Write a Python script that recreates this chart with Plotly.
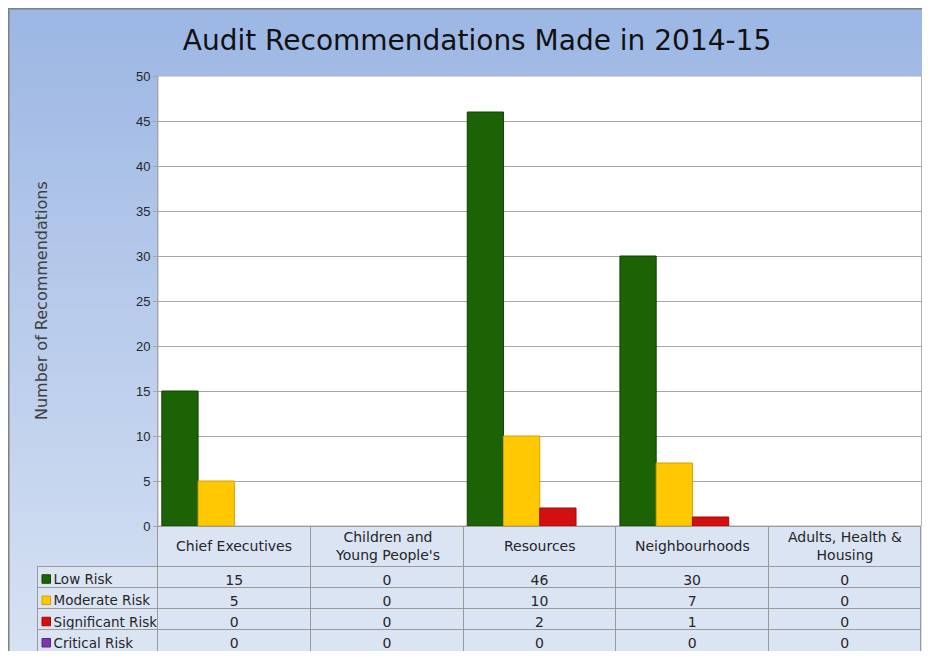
import plotly.graph_objects as go

# figure size (page adds an 8px body margin around it)
W, H = 914, 643
OFF = 8

categories = ["Chief Executives", "Children and Young People's", "Resources", "Neighbourhoods", "Adults, Health & Housing"]
header_labels = ["Chief Executives", "Children and<br>Young People's", "Resources", "Neighbourhoods", "Adults, Health &<br>Housing"]
series_names = ["Low Risk", "Moderate Risk", "Significant Risk", "Critical Risk"]
low_risk = [15, 0, 46, 30, 0]
moderate_risk = [5, 0, 10, 7, 0]
significant_risk = [0, 0, 2, 1, 0]
critical_risk = [0, 0, 0, 0, 0]
series_values = [low_risk, moderate_risk, significant_risk, critical_risk]
series_colors = ["#1c6305", "#ffc800", "#d40f0f", "#7b3ab0"]
series_edges = ["#124403", "#d6a200", "#a00a0a", "#5a2486"]
y_ticks = list(range(0, 51, 5))


def px(sx):
    return (sx - OFF) / W


def py(sy):
    return 1 - (sy - OFF) / H


PLOT_L, PLOT_R, PLOT_T, PLOT_B = 158, 921.5, 76, 526
COL_W = (PLOT_R - PLOT_L) / len(categories)

fig = go.Figure()

for name, vals, col, edge in zip(series_names, series_values, series_colors, series_edges):
    fig.add_trace(go.Bar(
        x=categories, y=vals, name=name,
        marker=dict(color=col, line=dict(color=edge, width=[1 if v > 0 else 0 for v in vals])),
        showlegend=False,
    ))

# data table
font_fam = "DejaVu Sans"
NB = "\u00a0"
HEADER_H = 40
ROW_H = 21.25
legend_cells = [NB + NB + n.replace(" ", NB) for n in series_names]
cell_cols = [legend_cells] + [[str(series_values[s][i]) for s in range(4)] for i in range(5)]
cell_fill = "#dbe4f3"
grid_col = "#9a9a9a"
fig.add_trace(go.Table(
    domain=dict(x=[px(37), px(PLOT_R)], y=[0, py(PLOT_B)]),
    columnwidth=[121] + [COL_W] * 5,
    header=dict(
        values=[""] * 6,
        fill_color=["rgba(0,0,0,0)"] + [cell_fill] * 5,
        line=dict(color=["rgba(0,0,0,0)"] + [grid_col] * 5, width=1),
        height=HEADER_H,
        font=dict(family=font_fam, size=14, color="#262626"),
    ),
    cells=dict(
        values=cell_cols,
        fill_color=cell_fill,
        line=dict(color=grid_col, width=1),
        align=["left"] + ["center"] * 5,
        height=ROW_H,
        font=dict(family=font_fam, size=[13.5] + [14] * 5, color="#262626"),
    ),
))

shapes = []
# gradient background
n = 60
c0 = (156, 183, 228)
c1 = (214, 225, 243)
for i in range(n):
    t = i / (n - 1)
    c = tuple(round(a + (b - a) * t) for a, b in zip(c0, c1))
    shapes.append(dict(type="rect", xref="paper", yref="paper", layer="below",
                       x0=0, x1=1, y0=1 - (i + 1) / n - 0.002, y1=1 - i / n,
                       fillcolor=f"rgb{c}", line=dict(width=0)))
# plot area white
shapes.append(dict(type="rect", xref="paper", yref="paper", layer="below",
                   x0=px(PLOT_L), x1=px(PLOT_R), y0=py(PLOT_B), y1=py(PLOT_T),
                   fillcolor="white", line=dict(color="#b0b0b0", width=1)))
# outer frame lines (top and left)
shapes.append(dict(type="line", xref="paper", yref="paper", x0=0, x1=1, y0=1, y1=1,
                   line=dict(color="#808080", width=3)))
shapes.append(dict(type="line", xref="paper", yref="paper", x0=0, x1=0, y0=0, y1=1,
                   line=dict(color="#808080", width=3)))
# legend keys in the table's first column
for i, (col, edge) in enumerate(zip(series_colors, series_edges)):
    cy = PLOT_B + HEADER_H + ROW_H * i + 13
    shapes.append(dict(type="rect", xref="paper", yref="paper",
                       x0=px(42), x1=px(50.5), y0=py(cy + 4.25), y1=py(cy - 4.25),
                       fillcolor=col, line=dict(color=edge, width=1)))

annotations = [dict(text="Number of Recommendations", xref="paper", yref="paper",
                    x=px(41), y=py(301), textangle=-90, showarrow=False,
                    xanchor="center", yanchor="middle",
                    font=dict(family=font_fam, size=16, color="#404040"))]
# category header labels inside the table header row
for cat, lab in zip(categories, header_labels):
    annotations.append(dict(text=lab, x=cat, xref="x", yref="paper", y=py(PLOT_B + HEADER_H / 2),
                            showarrow=False, xanchor="center", yanchor="middle", align="center",
                            font=dict(family=font_fam, size=14, color="#262626")))

fig.update_layout(
    width=W, height=H,
    margin=dict(l=0, r=0, t=0, b=0),
    paper_bgcolor="white",
    plot_bgcolor="white",
    barmode="group",
    bargap=0.05,
    bargroupgap=0,
    shapes=shapes,
    annotations=annotations,
    title=dict(text="Audit Recommendations Made in 2014-15",
               x=px(477), xanchor="center", y=py(40), yanchor="middle",
               font=dict(family=font_fam, size=28, color="#111111")),
    xaxis=dict(domain=[px(PLOT_L), px(PLOT_R)], showticklabels=False, showgrid=False,
               zeroline=False, showline=False, ticks="", automargin=False),
    yaxis=dict(domain=[py(PLOT_B), py(PLOT_T)], range=[0, 50], tickvals=y_ticks,
               showgrid=True, gridcolor="#a6a6a6", gridwidth=1,
               zeroline=False, showline=True, linecolor="#a6a6a6",
               ticks="outside", ticklen=4, tickcolor="#a6a6a6", automargin=False,
               tickfont=dict(family="Liberation Sans", size=13, color="#262626")),
)

fig.write_html("out.html")
